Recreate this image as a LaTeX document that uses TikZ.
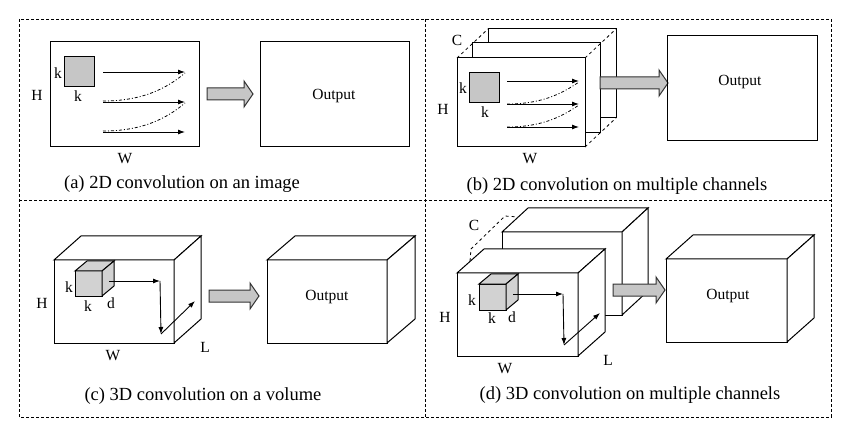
\documentclass[tikz,border=0pt]{standalone}
\usepackage{fontspec}
\setmainfont{Liberation Serif}
\usetikzlibrary{calc,arrows.meta}
\begin{document}
\newcommand{\mycube}[7]{% x1 y1 x2 y2 dx dy fill
  \filldraw[fill=#7] (#1,#2) rectangle (#3,#4);
  \filldraw[fill=#7] (#1,#2) -- ++(#5,-#6) -- ($(#3,#2)+(#5,-#6)$) -- (#3,#2) -- cycle;
  \filldraw[fill=#7] (#3,#2) -- ++(#5,-#6) -- ($(#3,#4)+(#5,-#6)$) -- (#3,#4) -- cycle;}
\newcommand{\bigarrow}[4]{% x1 x2 y name
  \filldraw[fill=gray!45,draw=black!80] (#1,#3-6) -- (#2-9,#3-6) -- (#2-9,#3-13) -- (#2,#3) -- (#2-9,#3+13) -- (#2-9,#3+6) -- (#1,#3+6) -- cycle;
  \coordinate (#4) at (#1,#3);}
\begin{tikzpicture}[x=1pt,y=-1pt,line width=1pt,
  lab/.style={font=\fontsize{15.5}{15.5}\selectfont,inner sep=0pt},
  outp/.style={font=\fontsize{15.5}{15.5}\selectfont,inner sep=0pt},
  capt/.style={font=\fontsize{18.5}{18.5}\selectfont,inner sep=0pt},
  ar/.style={-{Latex[length=7pt,width=5pt]},line width=0.9pt},
  dd/.style={dash dot,line width=0.8pt},
  kern/.style={fill=gray!45}]
\useasboundingbox (0,0) rectangle (850,435);
\fill[white] (0,0) rectangle (850,435);
\draw[densely dashed,line width=0.7pt] (19,19) rectangle (831,417) (425,19) -- (425,417) (19,200) -- (831,200);
% (a)
\draw (50,42) rectangle (199,147);
\draw[kern] (64,57) rectangle (94,87);
\node[lab] (ak1) at (58,73) {k};
\node[lab] (ak2) at (78,96) {k};
\node[lab] (aH) at (37,95) {H};
\node[lab] (aW) at (125,159) {W};
\foreach \y in {72,102,132} \draw[ar] (103,\y) -- (185,\y);
\draw[dd] (103,101) .. controls (140,101) and (165,90) .. (185,73);
\draw[dd] (103,131) .. controls (140,131) and (165,120) .. (185,103);
\bigarrow{207}{253}{94}{aA}
\draw (260,42) rectangle (409,147);
\node[outp] (aout) at (334,96) {Output};
\node[capt] (acap) at (182,184) {(a) 2D convolution on an image};
% (b)
\filldraw[fill=white] (488,29) rectangle (616,118);
\filldraw[fill=white] (472,43) rectangle (600,133);
\filldraw[fill=white] (457,58) rectangle (585,147);
\draw[dashed,line width=0.8pt] (457,58) -- (488,29) (585,58) -- (616,29) (585,147) -- (616,118);
\draw[kern] (469,73) rectangle (499,103);
\foreach \y in {81,104,127} \draw[ar] (507,\y) -- (579,\y);
\draw[dd] (507,104) .. controls (540,104) and (560,95) .. (579,82);
\draw[dd] (507,127) .. controls (540,127) and (560,118) .. (579,105);
\node[lab] (bk1) at (463,88) {k};
\node[lab] (bk2) at (485,112) {k};
\node[lab] (bH) at (443,109) {H};
\node[lab] (bW) at (530,159) {W};
\node[lab] (bC) at (457,40) {C};
\bigarrow{600}{668}{83}{bA}
\draw (667,36) rectangle (817,141);
\node[outp] (bout) at (740,82) {Output};
\node[capt] (bcap) at (617,186) {(b) 2D convolution on multiple channels};
% (c)
\mycube{54}{260}{174}{343}{27}{24}{white}
\mycube{75}{271}{102}{296}{12}{10}{gray!35}
\draw[ar] (109,281) -- (160,281);
\draw[ar] (160,281) -- (161,334);
\draw[ar] (161,334) -- (195,301);
\node[lab] (cH) at (42,303) {H};
\node[lab] (cW) at (113,356) {W};
\node[lab] (cL) at (205,347) {L};
\node[lab] (ck1) at (69,287) {k};
\node[lab] (ck2) at (88,306) {k};
\node[lab] (cd) at (111,303) {d};
\bigarrow{209}{259}{296}{cA}
\mycube{267}{260}{387}{343}{28}{24}{white}
\node[outp] (cout) at (327,297) {Output};
\node[capt] (ccap) at (203,396) {(c) 3D convolution on a volume};
% (d)
\mycube{502}{232}{622}{315}{26}{24}{white}
\mycube{457}{273}{578}{356}{27}{24}{white}
\draw[dashed,line width=0.8pt] (470,261) -- (471,249) -- (505,216) -- (518,217);
\mycube{479}{284}{506}{310}{12}{10}{gray!35}
\draw[ar] (513,294) -- (563,294);
\draw[ar] (563,294) -- (564,345);
\draw[ar] (564,345) -- (600,313);
\node[lab] (dH) at (445,317) {H};
\node[lab] (dW) at (505,369) {W};
\node[lab] (dL) at (608,360) {L};
\node[lab] (dC) at (474,225) {C};
\node[lab] (dk1) at (472,300) {k};
\node[lab] (dk2) at (492,318) {k};
\node[lab] (dd) at (512,317) {d};
\bigarrow{613}{665}{290}{dA}
\mycube{666}{259}{787}{342}{27}{24}{white}
\node[outp] (dout) at (728,296) {Output};
\node[capt] (dcap) at (630,395) {(d) 3D convolution on multiple channels};
\end{tikzpicture}
\end{document}
